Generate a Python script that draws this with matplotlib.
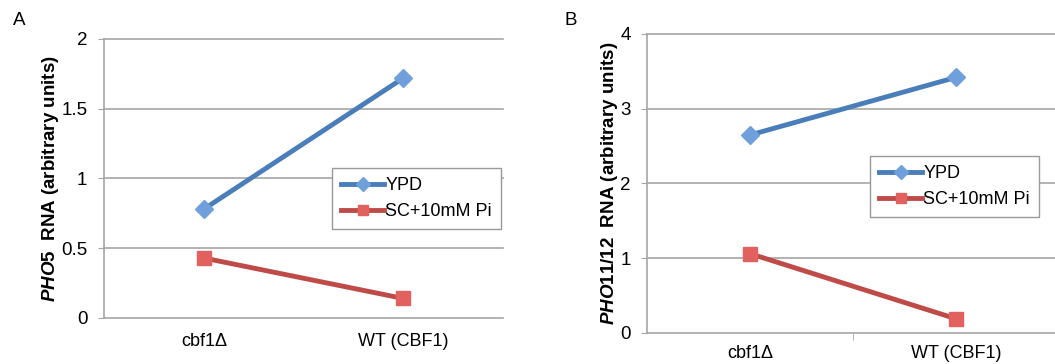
import matplotlib
matplotlib.use("Agg")
import matplotlib.pyplot as plt

plt.rcParams['font.family'] = ['Liberation Sans', 'DejaVu Sans']
plt.rcParams['mathtext.fontset'] = 'custom'
plt.rcParams['mathtext.it'] = 'Liberation Sans:italic:bold'
plt.rcParams['mathtext.rm'] = 'Liberation Sans:bold'

categories = ['cbf1\u0394', 'WT (CBF1)']
series_names = ['YPD', 'SC+10mM Pi']

pho5_ypd = [0.78, 1.72]
pho5_sc = [0.43, 0.14]
pho11_ypd = [2.65, 3.42]
pho11_sc = [1.06, 0.19]

blue_line = '#4A7EBB'
blue_face = '#6FA0DC'
red_line = '#BE4B48'
red_face = '#E0615D'
grid_col = '#A6A6A6'

fig = plt.figure(figsize=(10.55, 3.64), dpi=100)

def panel(rect, ypd, sc, ymax, ystep, ylabel, letter, letter_xy, leg_xy, mid_tick, xpad):
    ax = fig.add_axes(rect)
    x = range(len(categories))
    ax.plot(x, ypd, color=blue_line, lw=3.5, marker='D', ms=9,
            mfc=blue_face, mec=blue_face, label=series_names[0], zorder=3)
    ax.plot(x, sc, color=red_line, lw=3.5, marker='s', ms=10.5,
            mfc=red_face, mec=red_face, label=series_names[1], zorder=3)
    ax.set_xlim(-0.5, 1.5)
    ax.set_ylim(0, ymax)
    yt = [i * ystep for i in range(int(round(ymax / ystep)) + 1)]
    ax.set_yticks(yt)
    ax.set_yticklabels(['%g' % v for v in yt])
    ax.set_xticks(list(x))
    ax.set_xticklabels(categories)
    for v in yt[1:]:
        ax.axhline(v, color=grid_col, lw=1.2, zorder=1, clip_on=False)
    for s in ['top', 'right']:
        ax.spines[s].set_visible(False)
    for s in ['left', 'bottom']:
        ax.spines[s].set_color(grid_col)
        ax.spines[s].set_linewidth(1.2)
    ax.tick_params(axis='x', length=0, pad=xpad, labelsize=13)
    ax.tick_params(axis='y', length=4, color=grid_col, pad=8, labelsize=13.5)
    if mid_tick:
        ax.set_xticks([0.5], minor=True)
        ax.tick_params(axis='x', which='minor', length=5, color=grid_col)
    ax.set_ylabel(ylabel, fontsize=13.5, fontweight='bold', labelpad=0)
    fig.text(letter_xy[0], letter_xy[1], letter, fontsize=13.5, ha='left', va='center')
    leg = ax.legend(loc='upper left', bbox_to_anchor=leg_xy,
                    bbox_transform=fig.transFigure, borderaxespad=0,
                    fontsize=13, fancybox=False, handlelength=2.4,
                    handletextpad=0.05, labelspacing=0.5, borderpad=0.5,
                    markerscale=0.75, edgecolor='#999999', framealpha=1)
    leg.get_frame().set_linewidth(1.0)
    return ax

panel([0.0986, 0.1264, 0.3782, 0.7665], pho5_ypd, pho5_sc, 2, 0.5,
      r'$\mathit{PHO5}$  RNA (arbitrary units)', 'A', (0.012, 0.945),
      (0.3147, 0.5385), False, 11)
panel([0.6137, 0.0852, 0.390, 0.8214], pho11_ypd, pho11_sc, 4, 1,
      r'$\mathit{PHO11/12}$  RNA (arbitrary units)', 'B', (0.535, 0.945),
      (0.8246, 0.5714), True, 9)

fig.savefig('out.png', dpi=100)
